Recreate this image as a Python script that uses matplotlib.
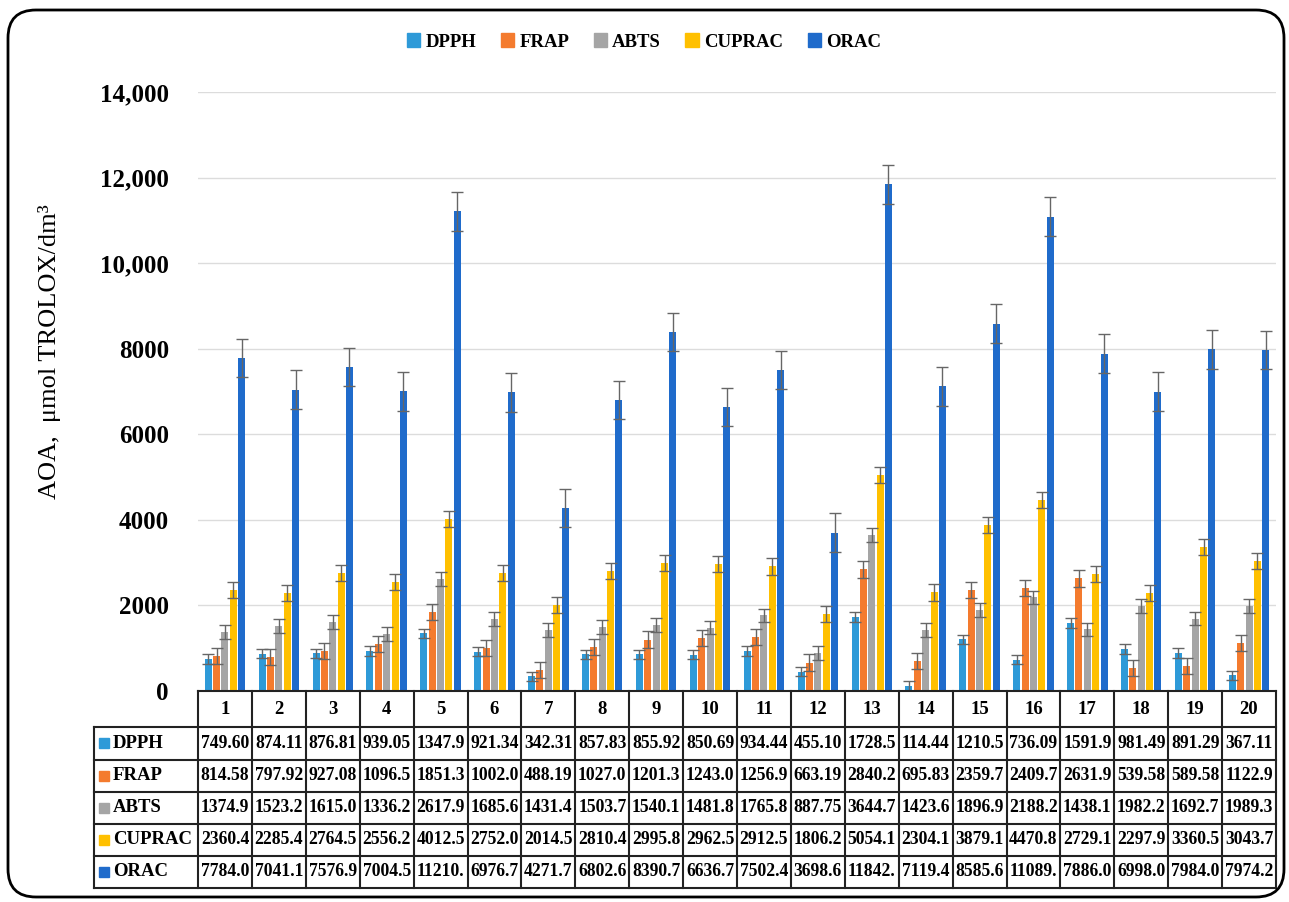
import matplotlib
matplotlib.use('Agg')
import matplotlib.pyplot as plt
import numpy as np
from matplotlib.patches import FancyBboxPatch, Rectangle
from matplotlib.ticker import FuncFormatter
from matplotlib.transforms import IdentityTransform

plt.rcParams['font.family'] = ['Liberation Serif', 'DejaVu Serif']
plt.rcParams['font.weight'] = 'bold'

samples = [str(i) for i in range(1, 21)]
series = ['DPPH', 'FRAP', 'ABTS', 'CUPRAC', 'ORAC']
dpph = [749.60, 874.11, 876.81, 939.05, 1347.9, 921.34, 342.31, 857.83, 855.92, 850.69,
        934.44, 455.10, 1728.5, 114.44, 1210.5, 736.09, 1591.9, 981.49, 891.29, 367.11]
frap = [814.58, 797.92, 927.08, 1096.5, 1851.3, 1002.0, 488.19, 1027.0, 1201.3, 1243.0,
        1256.9, 663.19, 2840.2, 695.83, 2359.7, 2409.7, 2631.9, 539.58, 589.58, 1122.9]
abts = [1374.9, 1523.2, 1615.0, 1336.2, 2617.9, 1685.6, 1431.4, 1503.7, 1540.1, 1481.8,
        1765.8, 887.75, 3644.7, 1423.6, 1896.9, 2188.2, 1438.1, 1982.2, 1692.7, 1989.3]
cuprac = [2360.4, 2285.4, 2764.5, 2556.2, 4012.5, 2752.0, 2014.5, 2810.4, 2995.8, 2962.5,
          2912.5, 1806.2, 5054.1, 2304.1, 3879.1, 4470.8, 2729.1, 2297.9, 3360.5, 3043.7]
orac = [7784.0, 7041.1, 7576.9, 7004.5, 11210.0, 6976.7, 4271.7, 6802.6, 8390.7, 6636.7,
        7502.4, 3698.6, 11842.0, 7119.4, 8585.6, 11089.0, 7886.0, 6998.0, 7984.0, 7974.2]
errors = [110, 190, 160, 190, 450]
colors = ['#2E9AD8', '#F47B2E', '#A5A5A5', '#FFC000', '#1F6BCB']
yticks = [0, 2000, 4000, 6000, 8000, 10000, 12000, 14000]

data = [dpph, frap, abts, cuprac, orac]

W, H = 1289, 902
fig = plt.figure(figsize=(W / 100, H / 100), dpi=100)

# main bar axes
ax = fig.add_axes([198 / W, 1 - 691 / H, 1078 / W, 599 / H])
x = np.arange(len(samples))
step = 0.155
for k, (name, vals, err, col) in enumerate(zip(series, data, errors, colors)):
    ax.bar(x + (k - 2) * step, vals, width=0.13, color=col, zorder=3,
           yerr=err, error_kw=dict(ecolor='#666666', elinewidth=1.0, capsize=4, capthick=1.0, zorder=4))
ax.set_xlim(-0.5, 19.5)
ax.set_ylim(0, 14000)
ax.set_yticks(yticks)
ax.yaxis.set_major_formatter(FuncFormatter(lambda v, p: f"{int(v):,}" if v >= 10000 else f"{int(v)}"))
ax.grid(axis='y', color='#dcdcdc', lw=1, zorder=0)
ax.set_xticks([])
for s in ax.spines.values():
    s.set_visible(False)
ax.tick_params(axis='y', length=0, pad=21, labelsize=18)

# y label
fig.text(50 / W, 1 - 352 / H, 'AOA,  μmol TROLOX/dm³', rotation=90, va='center', ha='center',
         fontsize=19, fontweight='normal')

# legend
handles = [Rectangle((0, 0), 1, 1, color=c) for c in colors]
fig.legend(handles, series, loc='center', bbox_to_anchor=(644 / W, 1 - 42 / H), ncol=5,
           frameon=False, fontsize=13.5, handlelength=0.7, handleheight=0.7,
           handletextpad=0.3, columnspacing=1.3)

# table
col_px = 1078 / 20
lab_w = (198 - 94) / col_px
tax = fig.add_axes([94 / W, 1 - 888 / H, (1276 - 94) / W, (888 - 691) / H])
tax.set_xlim(-0.5 - lab_w, 19.5)
tax.set_ylim(888, 691)
tax.axis('off')
edges = [691, 727, 759.5, 791.5, 823.5, 856, 888]
lc = '#222222'
xl = -0.5 - lab_w
tax.plot([-0.5, 19.5], [edges[0], edges[0]], color=lc, lw=1.5, clip_on=False)
for e in edges[1:]:
    tax.plot([xl, 19.5], [e, e], color=lc, lw=1.5, clip_on=False)
tax.plot([xl, xl], [edges[1], edges[-1]], color=lc, lw=1.5, clip_on=False)
for j in range(len(samples) + 1):
    tax.plot([j - 0.5, j - 0.5], [edges[0], edges[-1]], color=lc, lw=1.5, clip_on=False)
for j, s in enumerate(samples):
    tax.text(j, (edges[0] + edges[1]) / 2, s, ha='center', va='center', fontsize=13.5)
for r, (name, vals, col) in enumerate(zip(series, data, colors)):
    yc = (edges[r + 1] + edges[r + 2]) / 2
    tax.plot([-0.5 - (198 - 104) / col_px], [yc], marker='s', ms=7, color=col, clip_on=False)
    tax.text(-0.5 - (198 - 113) / col_px, yc, name, ha='left', va='center', fontsize=13.5)
    for j, v in enumerate(vals):
        tax.text(j, yc, f"{v:#.5g}", ha='center', va='center', fontsize=12.7)

# outer rounded frame
frame = FancyBboxPatch((8, 5), 1276, 887, boxstyle='round,pad=0,rounding_size=28',
                       transform=IdentityTransform(), fill=False, ec='black', lw=2)
fig.patches.append(frame)

fig.savefig('out.png', dpi=100)
